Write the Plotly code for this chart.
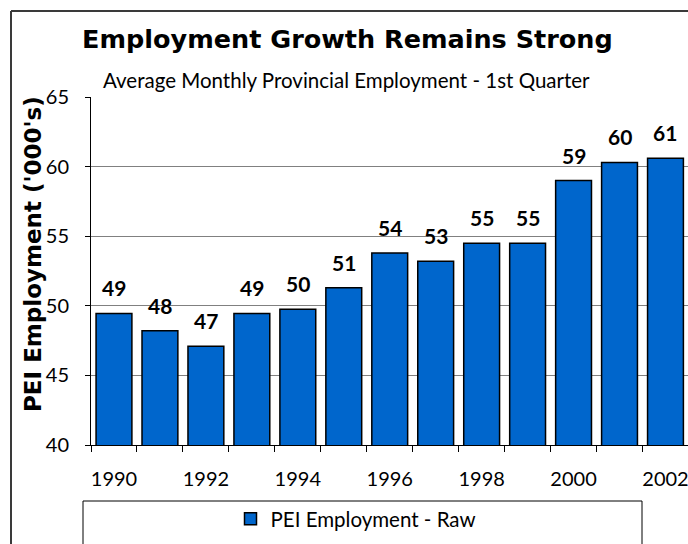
import plotly.graph_objects as go

years = [1990, 1991, 1992, 1993, 1994, 1995, 1996, 1997, 1998, 1999, 2000, 2001, 2002]
employment = [49.45, 48.2, 47.1, 49.45, 49.75, 51.3, 53.8, 53.2, 54.5, 54.5, 59.0, 60.3, 60.6]
value_labels = ["49", "48", "47", "49", "50", "51", "54", "53", "55", "55", "59", "60", "61"]
x_tick_years = [1990, 1992, 1994, 1996, 1998, 2000, 2002]
y_ticks = [40, 45, 50, 55, 60, 65]

title_text = "Employment Growth Remains Strong"
subtitle_text = "Average Monthly Provincial Employment - 1st Quarter"
y_title = "PEI Employment ('000's)"
series_name = "PEI Employment - Raw"
source_text = "Source: CANSIM"

FONT = "Lato"
BOLD_FONT = "DejaVu Sans"
W, H = 688, 544
L, R, T, B = 91, 0, 97, 99
pw, ph = W - L - R, H - T - B

def px_x(p):
    return (p - L) / pw

def px_y(p):
    return (H - B - p) / ph

fig = go.Figure()
fig.add_trace(go.Bar(
    x=years, y=employment, name=series_name, width=0.78,
    marker=dict(color="#0066CC", line=dict(color="#000000", width=1.5)),
    showlegend=True,
))

annotations = []
for yr, v, t in zip(years, employment, value_labels):
    annotations.append(dict(x=yr, y=v, xref="x", yref="y", text=t, showarrow=False,
                            yanchor="bottom", yshift=11,
                            font=dict(family=FONT, size=21, color="#000000", weight="bold")))

annotations += [
    dict(x=px_x(347), y=px_y(39), xref="paper", yref="paper", text="<b>" + title_text + "</b>",
         showarrow=False, xanchor="center", yanchor="middle",
         font=dict(family=BOLD_FONT, size=25.5, color="#000000")),
    dict(x=px_x(346), y=px_y(80), xref="paper", yref="paper", text=subtitle_text,
         showarrow=False, xanchor="center", yanchor="middle",
         font=dict(family=FONT, size=20.5, color="#000000")),
    dict(x=px_x(33), y=px_y(254), xref="paper", yref="paper", text="<b>" + y_title + "</b>",
         showarrow=False, xanchor="center", yanchor="middle", textangle=-90,
         font=dict(family=BOLD_FONT, size=23, color="#000000")),
    dict(x=px_x(553), y=px_y(5), xref="paper", yref="paper", text=source_text,
         showarrow=False, xanchor="left", yanchor="bottom",
         font=dict(family=FONT, size=16, color="#000000")),
]

shapes = [
    dict(type="line", xref="paper", yref="paper", x0=px_x(11), x1=px_x(700), y0=px_y(11), y1=px_y(11),
         line=dict(color="#3a3a3a", width=2)),
    dict(type="line", xref="paper", yref="paper", x0=px_x(11), x1=px_x(11), y0=px_y(11), y1=px_y(560),
         line=dict(color="#3a3a3a", width=2)),
    dict(type="rect", xref="paper", yref="paper", x0=px_x(83), x1=px_x(642), y0=px_y(501), y1=px_y(560),
         line=dict(color="#000000", width=1), fillcolor="rgba(0,0,0,0)"),
]

fig.update_layout(
    width=W, height=H,
    margin=dict(l=L, r=R, t=T, b=B, pad=0),
    paper_bgcolor="white", plot_bgcolor="white",
    bargap=0.22,
    font=dict(family=FONT, size=20, color="#000000"),
    annotations=annotations,
    shapes=shapes,
    legend=dict(orientation="h", x=px_x(356), y=px_y(519), xanchor="center", yanchor="middle",
                font=dict(family=FONT, size=20.5, color="#000000"), bgcolor="rgba(0,0,0,0)",
                itemwidth=30),
    xaxis=dict(range=[1989.5, 2002.49], tickmode="array", tickvals=x_tick_years,
               ticktext=[str(y) for y in x_tick_years], ticks="", showgrid=False,
               showline=True, linecolor="#000000", linewidth=1,
               ticklabelstandoff=16, ticklabeloverflow="allow", tickfont=dict(family=FONT, size=20),
               minor=dict(tickmode="linear", tick0=1989.5, dtick=1, ticks="outside",
                          ticklen=6, tickcolor="#000000", tickwidth=1, showgrid=False),
               zeroline=False, fixedrange=True),
    yaxis=dict(range=[40, 65], tickmode="array", tickvals=y_ticks, ticks="outside", ticklen=5,
               tickcolor="#000000", showgrid=True, gridcolor="#808080", gridwidth=1,
               showline=True, linecolor="#000000", linewidth=1, ticklabelstandoff=12,
               tickfont=dict(family=FONT, size=20), zeroline=False, fixedrange=True),
)

fig.write_html("out.html", config={"displayModeBar": False})
